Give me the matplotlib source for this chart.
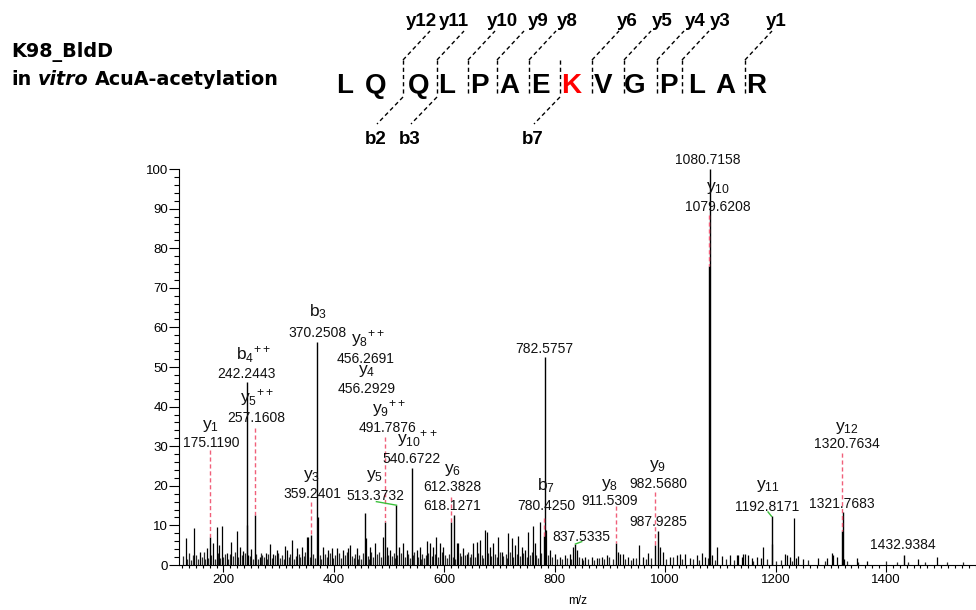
import matplotlib
matplotlib.use("Agg")
import matplotlib.pyplot as plt
from matplotlib.lines import Line2D
from matplotlib.ticker import MultipleLocator
from matplotlib.transforms import Affine2D

plt.rcParams["font.family"] = ["Liberation Sans", "DejaVu Sans"]
plt.rcParams["mathtext.fontset"] = "custom"
plt.rcParams["mathtext.rm"] = "Liberation Sans"
plt.rcParams["mathtext.it"] = "Liberation Sans:italic"
plt.rcParams["mathtext.bf"] = "Liberation Sans:bold"

# ---------------- data ----------------
title_lines = ["K98_BldD", "AcuA-acetylation"]
peptide = "LQQLPAEKVGPLAR"
modified_site = 7            # 0-based index of acetylated K
y_ions = [12, 11, 10, 9, 8, 6, 5, 4, 3, 1]
b_ions = [2, 3, 7]

# annotated peaks (m/z, relative intensity)
ion_peak_mz = [175.1190, 242.2443, 257.1608, 359.2401, 370.2508, 456.2929, 491.7876,
               513.3732, 540.6722, 612.3828, 618.1271, 780.4250, 782.5757, 837.5335,
               911.5309, 982.5680, 987.9285, 1079.6208, 1080.7158, 1192.8171,
               1320.7634, 1321.7683, 1432.9384]
ion_peak_int = [7.0, 46.2, 12.7, 7.6, 56.3, 13.1, 10.8, 15.1, 24.4, 10.8, 12.6, 7.4,
                52.4, 5.3, 5.5, 5.0, 8.6, 75.5, 100.0, 12.3, 8.6, 13.3, 2.6]

# other visible peaks (m/z, intensity)
other_peaks = [
    (131.5, 6.9), (147.2, 9.4), (157.4, 3.4), (169.5, 4.2), (181.6, 5.5), (187.6, 9.7),
    (192.5, 5.0), (196.7, 9.8), (205.8, 3.0), (213.6, 5.9), (223.9, 8.6), (229.9, 4.6),
    (236.0, 3.5), (243.3, 10.0), (245.0, 2.5), (250.0, 4.0), (266.2, 2.1), (277.0, 3.1),
    (284.3, 5.3), (290.3, 2.9), (296.4, 3.8), (311.4, 4.8), (314.4, 3.8), (324.7, 6.3),
    (332.6, 4.2), (341.6, 4.6), (350.7, 7.1), (353.0, 7.0), (371.3, 12.2), (380.9, 4.6),
    (390.0, 3.8), (396.0, 4.2), (405.0, 4.2), (417.0, 3.8), (426.0, 4.2), (429.2, 5.0),
    (441.3, 4.2), (457.3, 6.7), (465.5, 4.6), (474.5, 5.5), (489.6, 7.1), (495.6, 4.6),
    (501.7, 3.8), (518.6, 4.6), (525.8, 5.6), (531.9, 3.8), (550.0, 3.8), (556.0, 4.6),
    (568.1, 6.1), (574.2, 5.5), (580.2, 4.6), (585.0, 7.1), (592.3, 5.5), (598.3, 4.6),
    (622.4, 5.5), (625.4, 5.5), (634.5, 4.2), (640.5, 2.9), (652.6, 5.5), (658.6, 5.9),
    (664.7, 6.3), (673.7, 8.8), (676.8, 8.4), (682.8, 4.6), (688.8, 5.5), (697.9, 7.1),
    (703.9, 3.4), (716.0, 8.0), (722.1, 6.7), (728.1, 5.0), (734.1, 7.3), (740.2, 4.6),
    (746.2, 3.8), (752.3, 8.4), (760.1, 9.8), (764.3, 5.5), (773.4, 10.9), (783.6, 8.8),
    (791.5, 3.8), (800.6, 2.9), (809.6, 2.1), (818.7, 2.5), (827.7, 2.9), (833.8, 4.6),
    (839.8, 3.8), (848.9, 1.7), (854.9, 2.1), (867.0, 2.1), (876.0, 1.7), (885.1, 2.1),
    (894.2, 2.5), (915.3, 3.4), (918.4, 2.9), (923.2, 2.9), (933.4, 2.1), (942.5, 1.7),
    (953.4, 5.0), (960.6, 2.1), (969.7, 3.1), (990.8, 4.6), (996.8, 3.4), (1008.9, 2.1),
    (1021.0, 2.5), (1027.0, 2.9), (1036.1, 2.9), (1045.2, 1.7), (1057.2, 2.5), (1066.3, 3.0),
    (1072.3, 2.1), (1084.4, 2.5), (1093.4, 4.6), (1102.5, 2.3), (1117.6, 2.5), (1129.7, 2.5),
    (1132.7, 2.5), (1138.8, 2.1), (1141.7, 2.8), (1144.8, 2.9), (1150.8, 2.5), (1156.9, 1.7),
    (1165.9, 2.1), (1173.7, 1.7), (1177.5, 4.6), (1193.8, 5.3), (1217.2, 2.9), (1220.2, 2.5),
    (1226.3, 2.1), (1233.5, 11.9), (1236.5, 1.7), (1241.4, 2.3), (1249.2, 1.4), (1277.6, 1.7),
    (1292.7, 1.7), (1301.8, 3.1), (1304.8, 2.5), (1310.8, 2.1), (1324.1, 1.4), (1347.1, 1.7),
    (1365.2, 0.9), (1458.8, 1.5), (1492.0, 1.9),
]

# dense low-level baseline peaks (m/z, intensity), estimated
baseline_peaks = [
    (127, 2.2), (134, 1.5), (138, 3.0), (141, 1.2), (144, 2.4), (151, 2.6), (154, 1.4),
    (161, 2.0), (164, 3.2), (167, 1.6), (172, 1.8), (178, 2.4), (184, 1.6), (190, 3.1),
    (194, 1.8), (199, 2.0), (202, 2.8), (209, 1.5), (211, 2.9), (217, 2.3), (220, 3.4),
    (226, 1.9), (233, 2.6), (239, 3.0), (248, 2.2), (253, 1.4), (259, 2.7), (262, 1.6),
    (268, 3.0), (270, 2.5), (273, 1.9), (279, 1.5), (281, 2.9), (287, 1.7), (293, 2.4),
    (299, 3.1), (302, 1.8), (306, 2.6), (309, 1.5), (318, 2.0), (321, 2.9), (328, 1.6),
    (331, 2.3), (336, 2.7), (338, 1.9), (345, 2.3), (347, 3.2), (357, 2.1), (363, 2.8),
    (366, 1.7), (375, 2.4), (377, 1.6), (384, 2.9), (387, 2.0), (393, 3.0), (399, 1.8),
    (402, 2.5), (409, 3.1), (413, 1.7), (420, 2.6), (423, 3.3), (432, 2.2), (436, 1.8),
    (438, 2.9), (443, 1.6), (446, 2.4), (449, 1.6), (452, 3.0), (461, 2.3), (463, 1.5),
    (468, 3.2), (471, 1.9), (478, 2.7), (482, 3.4), (485, 2.0), (493, 2.2), (498, 2.6),
    (505, 2.2), (508, 3.1), (511, 1.8), (515, 2.5), (521, 3.0), (528, 2.1), (535, 2.8),
    (538, 1.7), (543, 2.4), (546, 3.3), (553, 2.0), (558, 1.6), (560, 2.9), (563, 1.8),
    (566, 2.5), (571, 3.1), (577, 2.3), (583, 2.7), (589, 1.9), (595, 3.2), (601, 2.4),
    (605, 1.7), (609, 2.8), (615, 2.0), (620, 1.6), (628, 3.0), (631, 2.2), (637, 2.6),
    (643, 3.3), (646, 1.9), (649, 2.7), (655, 2.1), (661, 3.0), (668, 2.4), (671, 1.8),
    (680, 3.1), (685, 2.2), (692, 2.8), (695, 1.9), (700, 3.2), (707, 2.3), (711, 2.7),
    (714, 1.7), (719, 3.4), (725, 2.0), (731, 2.9), (737, 2.2), (743, 3.0), (749, 1.9),
    (755, 2.6), (758, 3.3), (767, 2.4), (770, 1.8), (776, 3.0), (787, 2.5), (795, 1.9),
    (805, 1.6), (814, 1.4), (823, 1.8), (830, 1.5), (844, 2.0), (851, 1.3), (861, 1.6),
    (872, 1.2), (881, 1.7), (890, 1.4), (899, 1.9), (906, 1.5), (928, 1.6), (938, 1.3),
    (948, 1.8), (965, 1.4), (975, 1.7), (1001, 1.5), (1015, 1.9), (1031, 1.4), (1050, 1.6),
    (1062, 1.3), (1077, 1.8), (1090, 1.2), (1110, 1.5), (1124, 1.3), (1160, 1.1),
    (1185, 1.4), (1200, 1.0), (1210, 1.3), (1230, 1.1), (1258, 1.2), (1290, 0.9),
    (1330, 1.0), (1350, 0.8), (1400, 0.9), (1420, 0.7), (1440, 0.8), (1470, 0.7),
    (1510, 0.8), (1540, 0.7),
]

# annotation content: ion label (mathtext) and the m/z value printed
ann_ion = [r"y_{1}", r"b_{4}{}^{++}", r"y_{5}{}^{++}", r"y_{3}", r"b_{3}", r"y_{8}{}^{++}",
           r"y_{4}", r"y_{9}{}^{++}", r"y_{10}{}^{++}", r"y_{5}", r"y_{6}", None, r"b_{7}",
           None, None, r"y_{8}", r"y_{9}", None, None, r"y_{10}", r"y_{11}", r"y_{12}",
           None, None]
ann_mz = [175.1190, 242.2443, 257.1608, 359.2401, 370.2508, 456.2691, 456.2929, 491.7876,
          540.6722, 513.3732, 612.3828, 618.1271, 780.4250, 782.5757, 837.5335, 911.5309,
          982.5680, 987.9285, 1080.7158, 1079.6208, 1192.8171, 1320.7634, 1321.7683, 1432.9384]

# ---------------- layout ----------------
# (mass label x, mass label y, ion label x, ion label y, connector kind, connector start)
ann_layout = [
    (177, 30.8, 177, 35.0, "red", (175.1190, 29.0)),
    (241, 48.3, 254, 53.2, None, None),
    (259, 37.0, 261, 42.2, "red", (257.1608, 34.7)),
    (361, 17.9, 360, 22.5, "red", (359.2401, 15.8)),
    (370, 58.7, 371, 64.0, None, None),
    (457, 52.1, 461, 57.2, None, None),
    (459, 44.4, 460, 49.0, None, None),
    (497, 34.7, 499, 39.5, "red", (491.7876, 32.2)),
    (541, 26.7, 551, 32.0, None, None),
    (474.5, 17.3, 474.5, 22.5, "green", (477.0, 16.0)),
    (615, 19.6, 615, 23.9, "red", (612.3828, 17.1)),
    (615, 14.8, None, None, None, None),
    (784, 14.8, 785, 20.0, "red", (780.4250, 11.8)),
    (781, 54.6, None, None, None, None),
    (849, 7.0, None, None, "green", (849.0, 5.9)),
    (900, 16.2, 900, 20.2, "red", (911.5309, 15.0)),
    (987, 20.4, 987, 25.0, "red", (982.5680, 18.4)),
    (988, 10.9, None, None, None, None),
    (1078, 102.3, None, None, None, None),
    (1096, 90.3, 1096, 95.2, "red", (1079.6208, 88.5)),
    (1184, 14.7, 1187, 20.0, "green", (1186.4, 13.4)),
    (1329, 30.5, 1329, 34.7, "red", (1320.7634, 28.4)),
    (1320, 15.4, None, None, None, None),
    (1431.5, 5.1, None, None, None, None),
]
# which annotated peak each annotation points to (index into ion_peak_mz)
ann_peak = [0, 1, 2, 3, 4, 5, 5, 6, 8, 7, 9, 10, 11, 12, 13, 14, 15, 16, 18, 17, 19, 20, 21, 22]

W, H = 976, 610
fig = plt.figure(figsize=(W / 100, H / 100), dpi=100)
ax = fig.add_axes([179 / W, 45 / H, (W - 179) / W, 396 / H])

# peaks
bx = [p[0] for p in baseline_peaks]
by = [p[1] for p in baseline_peaks]
ox = [p[0] for p in other_peaks]
oy = [p[1] for p in other_peaks]
ax.vlines(bx, 0, by, colors="#2a2a2a", lw=0.9)
ax.vlines(ox, 0, oy, colors="black", lw=0.9)
ax.vlines(ion_peak_mz, 0, ion_peak_int, colors="black", lw=1.0)

# annotations
for ion, mz, lay, pk in zip(ann_ion, ann_mz, ann_layout, ann_peak):
    mx, my, ix, iy, kind, start = lay
    ax.text(mx, my, f"{mz:.4f}", ha="center", va="center", fontsize=10, color="#111111")
    if ion is not None:
        ax.text(ix, iy, r"$\mathregular{" + ion + "}$", ha="center", va="center",
                fontsize=12.5, color="#111111")
    if kind == "red":
        ax.plot([start[0], start[0]], [start[1], ion_peak_int[pk]], color="#f0607a",
                lw=1.0, ls=(0, (3, 2)), solid_capstyle="butt")
    elif kind == "green":
        ax.plot([start[0], ion_peak_mz[pk]], [start[1], ion_peak_int[pk]], color="#3cc03c",
                lw=1.0)

ax.set_xlim(119.4, 1563.2)
ax.set_ylim(0, 100)
ax.xaxis.set_major_locator(MultipleLocator(200))
ax.xaxis.set_minor_locator(MultipleLocator(12.5))
ax.yaxis.set_major_locator(MultipleLocator(10))
ax.yaxis.set_minor_locator(MultipleLocator(2))
for s in ("top", "right"):
    ax.spines[s].set_visible(False)
for s in ("left", "bottom"):
    ax.spines[s].set_linewidth(0.8)
ax.tick_params(axis="y", which="major", direction="out", length=7.2, width=0.8, labelsize=9.5, pad=0.5)
ax.tick_params(axis="y", which="minor", direction="out", length=3.3, width=0.8)
ax.tick_params(axis="x", which="major", direction="out", length=4.8, width=0.8, labelsize=9.5, pad=2)
ax.tick_params(axis="x", which="minor", direction="out", length=2.4, width=0.8)
ax.set_xlabel("m/z", fontsize=8.5, labelpad=6)

# ---------------- header (pixel coordinates) ----------------
pix = Affine2D().scale(1 / W, -1 / H).translate(0, 1) + fig.transFigure
hfont = dict(family="DejaVu Sans", weight="bold", fontsize=13.8, color="black")
fig.text(11, 57, title_lines[0], transform=pix, va="baseline", ha="left", **hfont)
renderer = fig.canvas.get_renderer()
t1 = fig.text(11, 85, "in", transform=pix, va="baseline", ha="left", **hfont)
x_end = t1.get_window_extent(renderer).x1
space_px = 6.5
t2 = fig.text(x_end + space_px, 85, "vitro", transform=pix, va="baseline", ha="left",
              style="italic", **hfont)
# transform for t2 is in "pix" (top-left origin, same x scale as display)
x_end2 = t2.get_window_extent(renderer).x1
fig.text(x_end2 + space_px, 85, title_lines[1], transform=pix, va="baseline", ha="left", **hfont)

letter_x = [345, 376, 419, 447, 479, 509, 540, 571, 603, 635, 668, 697, 725, 756]
sep_x = {2: 403, 3: 437, 4: 468, 5: 497, 6: 529, 7: 560, 8: 592, 9: 624, 10: 657, 11: 682, 13: 745}
y_label_x = {12: 421, 11: 454, 10: 502, 9: 538, 8: 567, 6: 627, 5: 662, 4: 695, 3: 720, 1: 776}

for i, ch in enumerate(peptide):
    fig.text(letter_x[i], 92.7, ch, transform=pix, ha="center", va="baseline",
             fontsize=20, weight="bold", family="Liberation Sans",
             color="#ff0000" if i == modified_site else "black")

dash = dict(color="black", lw=1.0, ls=(0, (3.0, 2.2)), transform=pix)
used = set()
for n in y_ions:
    k = len(peptide) - n
    sx = sep_x[k]
    used.add(k)
    fig.add_artist(Line2D([sx, sx + 27], [60, 31], **dash))
    fig.text(y_label_x[n], 26.5, f"y{n}", transform=pix, ha="center", va="baseline",
             fontsize=13.5, weight="bold", family="Liberation Sans")
for n in b_ions:
    sx = sep_x[n]
    used.add(n)
    fig.add_artist(Line2D([sx, sx - 26], [97, 124], **dash))
    fig.text(sx - 27, 143.5, f"b{n}", transform=pix, ha="center", va="baseline",
             fontsize=13.5, weight="bold", family="Liberation Sans")
for k in used:
    fig.add_artist(Line2D([sep_x[k], sep_x[k]], [60, 96], **dash))

fig.savefig("out.png", dpi=100)
